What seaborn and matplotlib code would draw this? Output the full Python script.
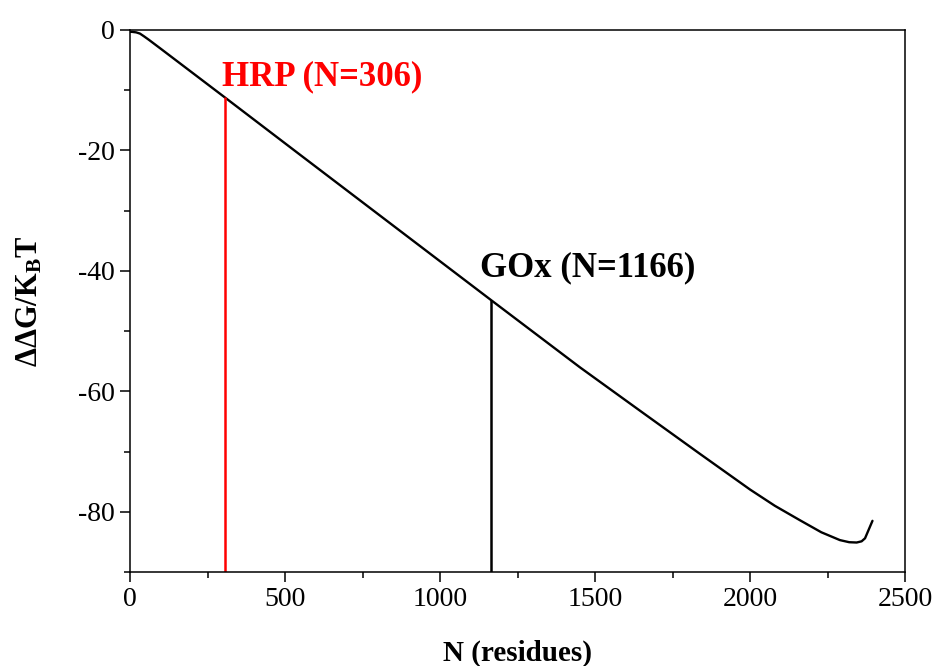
import numpy as np
import pandas as pd
import matplotlib
matplotlib.use("Agg")
import matplotlib.pyplot as plt
import seaborn as sns
from matplotlib.ticker import MultipleLocator

# Data
n_residues = [0, 8, 20, 32, 45, 60, 100, 306, 548, 1000, 1166, 1451, 1650, 1839, 2000,
              2080, 2161, 2230, 2290, 2320, 2344, 2360, 2371, 2395]
ddg = [-0.3, -0.32, -0.4, -0.6, -1.05, -1.6, -3.15, -11.2, -20.7, -38.4, -44.9, -56.0,
       -63.4, -70.4, -76.3, -79.0, -81.4, -83.4, -84.7, -85.05, -85.1, -84.9, -84.4, -81.5]

marker_names = ["HRP", "GOx"]
marker_n = [306, 1166]
marker_colors = ["#ff0000", "#000000"]
marker_labels = ["HRP (N=306)", "GOx (N=1166)"]

x_ticks = [0, 500, 1000, 1500, 2000, 2500]
y_ticks = [0, -20, -40, -60, -80]

sns.set_theme(style="ticks")
plt.rcParams["font.family"] = ["Liberation Serif", "DejaVu Serif"]
plt.rcParams["mathtext.fontset"] = "custom"
plt.rcParams["mathtext.rm"] = "Liberation Serif"
plt.rcParams["mathtext.bf"] = "Liberation Serif:bold"
plt.rcParams["mathtext.it"] = "Liberation Serif:italic"
plt.rcParams["axes.unicode_minus"] = False
plt.rcParams["text.color"] = "black"
plt.rcParams["axes.labelcolor"] = "black"
plt.rcParams["xtick.color"] = "black"
plt.rcParams["ytick.color"] = "black"

fig = plt.figure(figsize=(9.36, 6.66), dpi=100)
ax = fig.add_axes([0.1389, 0.1411, 0.828, 0.8139])

df = pd.DataFrame({"N": n_residues, "dG": ddg})
sns.lineplot(data=df, x="N", y="dG", ax=ax, color="black", linewidth=1.7, sort=False)

ymin = -90
curve_vals = np.interp(marker_n, n_residues, ddg)
for nn, yy, c in zip(marker_n, curve_vals, marker_colors):
    ax.vlines(nn, ymin, yy, color=c, linewidth=1.8)

ax.text(297, -7.8, marker_labels[0], color=marker_colors[0], fontsize=25,
        fontweight="bold", ha="left", va="center")
ax.text(1129, -39.5, marker_labels[1], color=marker_colors[1], fontsize=25,
        fontweight="bold", ha="left", va="center")

ax.set_xlim(0, 2500)
ax.set_ylim(ymin, 0)
ax.set_xticks(x_ticks)
ax.set_yticks(y_ticks)
ax.xaxis.set_minor_locator(MultipleLocator(250))
ax.yaxis.set_minor_locator(MultipleLocator(10))
ax.tick_params(axis="both", which="major", direction="out", length=7, width=1.1,
               labelsize=20, colors="black", pad=4)
ax.tick_params(axis="both", which="minor", direction="out", length=4, width=1.1)
for s in ax.spines.values():
    s.set_linewidth(1.1)
    s.set_color("black")

ax.set_xlabel("N (residues)", fontsize=21, fontweight="bold", labelpad=20, color="black")
ax.set_ylabel(r"$\mathbf{ΔΔG/K_BT}$", fontsize=22, labelpad=24, color="black")

fig.savefig("out.png", dpi=100)
